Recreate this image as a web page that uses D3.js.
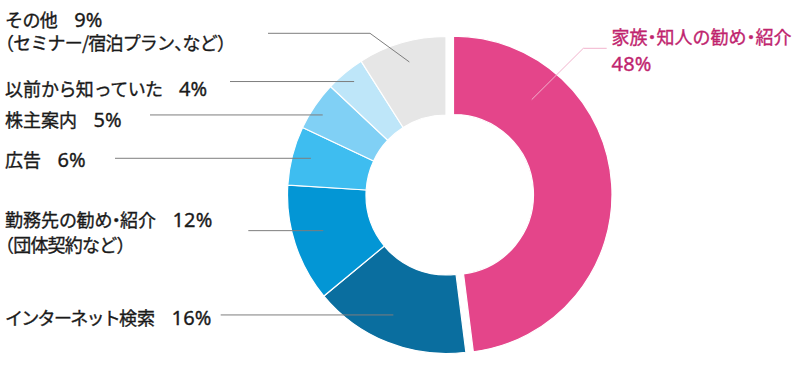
<!DOCTYPE html>
<html><head><meta charset="utf-8">
<script src="https://cdn.jsdelivr.net/npm/d3@7"></script>
<style>
html,body{margin:0;padding:0;background:#fff;}
svg{display:block;}
text{font-family:"Noto Sans CJK JP","Noto Sans",sans-serif;font-size:18px;letter-spacing:-0.8px;stroke-width:0.35px;}
tspan.num{font-family:"Noto Sans","Noto Sans CJK JP",sans-serif;font-size:20px;letter-spacing:0.2px;}
tspan.kan{letter-spacing:0px;}
tspan.hira{letter-spacing:-0.6px;}
tspan.kata{letter-spacing:-1.7px;}
tspan.punct{font-feature-settings:'halt';}
</style></head>
<body>
<script>
// ---- data ----
const categories = ["家族・知人の勧め・紹介","インターネット検索","勤務先の勧め・紹介","広告","株主案内","以前から知っていた","その他"];
const values = [48,16,12,6,5,4,9];
const subLabels = ["","","（団体契約など）","","","","（セミナー/宿泊プラン、など）"];
const colors = ["#E4458A","#0A6E9F","#0396D5","#3EBDF0","#80D0F5","#BEE6F9","#E6E6E6"];

// ---- layout ----
const W = 798, H = 385;
const cx = 446, cy = 195, R = 158.5, r0 = 80, explode = 7.5;
// label layout: text x, baselines, leader start x, optional elbow x, end angle (deg), end radius
const labelLayout = [
  {tx:611.5, ty:[44,70.5], x0:606.7, elbow:583.3, ly:48.3, a:39.5, r:123, color:"#C0246E", line:"#F2B3CD", twoLine:true},
  {tx:5, ty:[324.5], x0:220.7, a:203.7, r:131},
  {tx:5, ty:[227,252], x0:248.3, a:253.8, r:127.8},
  {tx:5, ty:[167], x0:115, a:285.2, r:140},
  {tx:5, ty:[126.5], x0:150, a:303, r:147},
  {tx:5, ty:[96], x0:230, a:321, r:146},
  {tx:5, ty:[26.5,50], x0:268, elbow:370, ly:33.3, a:344.6, r:138}
];

const svg = d3.select("body").append("svg").attr("width", W).attr("height", H);

const pie = d3.pie().sort(null).value(d => d)(values);
const arc = d3.arc().innerRadius(r0).outerRadius(R);

const g = svg.append("g");
g.selectAll("path").data(pie).join("path")
  .attr("d", arc)
  .attr("fill", (d,i) => colors[i])
  .attr("stroke", "#fff")
  .attr("stroke-width", 1.2)
  .attr("transform", (d,i) => {
    if (i === 0) {
      const m = (d.startAngle + d.endAngle) / 2;
      return `translate(${cx + explode*Math.sin(m)},${cy - explode*Math.cos(m)})`;
    }
    return `translate(${cx},${cy})`;
  });

function polar(i, aDeg, rad) {
  const d = pie[i];
  let ox = cx, oy = cy;
  if (i === 0) {
    const m = (d.startAngle + d.endAngle) / 2;
    ox += explode*Math.sin(m); oy -= explode*Math.cos(m);
  }
  const a = aDeg * Math.PI / 180;
  return [ox + rad*Math.sin(a), oy - rad*Math.cos(a)];
}

function cls(ch, fine) {
  if (/[（）、・]/.test(ch)) return "punct";
  if (!fine) return "plain";
  if (/[\u3040-\u309F]/.test(ch)) return "hira";
  if (/[\u30A0-\u30FF]/.test(ch)) return "kata";
  return "kan";
}
function addRuns(textSel, str, fine) {
  let buf = "", cur = null;
  const flush = () => {
    if (!buf) return;
    textSel.append("tspan").attr("class", cur).text(buf);
    buf = "";
  };
  for (const ch of str) {
    const c = cls(ch, fine);
    if (cur !== null && c !== cur) flush();
    cur = c; buf += ch;
  }
  flush();
}

const lineGen = d3.line();
labelLayout.forEach((L, i) => {
  const end = polar(i, L.a, L.r);
  let pts;
  if (L.elbow !== undefined) pts = [[L.x0, L.ly], [L.elbow, L.ly], end];
  else pts = [[L.x0, end[1]], end];
  svg.append("path").attr("d", lineGen(pts))
    .attr("fill", "none").attr("stroke", L.line || "#7d7d7d").attr("stroke-width", 1);

  const fill = L.color || "#1a1a1a";
  const mk = (y) => svg.append("text").attr("x", L.tx).attr("y", y).attr("fill", fill).attr("stroke", fill);
  if (L.twoLine) {
    const t1 = mk(L.ty[0]).style("letter-spacing", "0px");
    addRuns(t1, categories[i], false);
    mk(L.ty[1]).append("tspan").attr("class", "num").text(values[i] + "%");
  } else {
    const t1 = mk(L.ty[0]);
    addRuns(t1, categories[i], true);
    t1.append("tspan").attr("class", "num").attr("dx", 11).text(" " + values[i] + "%");
    if (subLabels[i]) {
      const t2 = mk(L.ty[1]);
      addRuns(t2, subLabels[i], false);
    }
  }
});
</script>
</body></html>
